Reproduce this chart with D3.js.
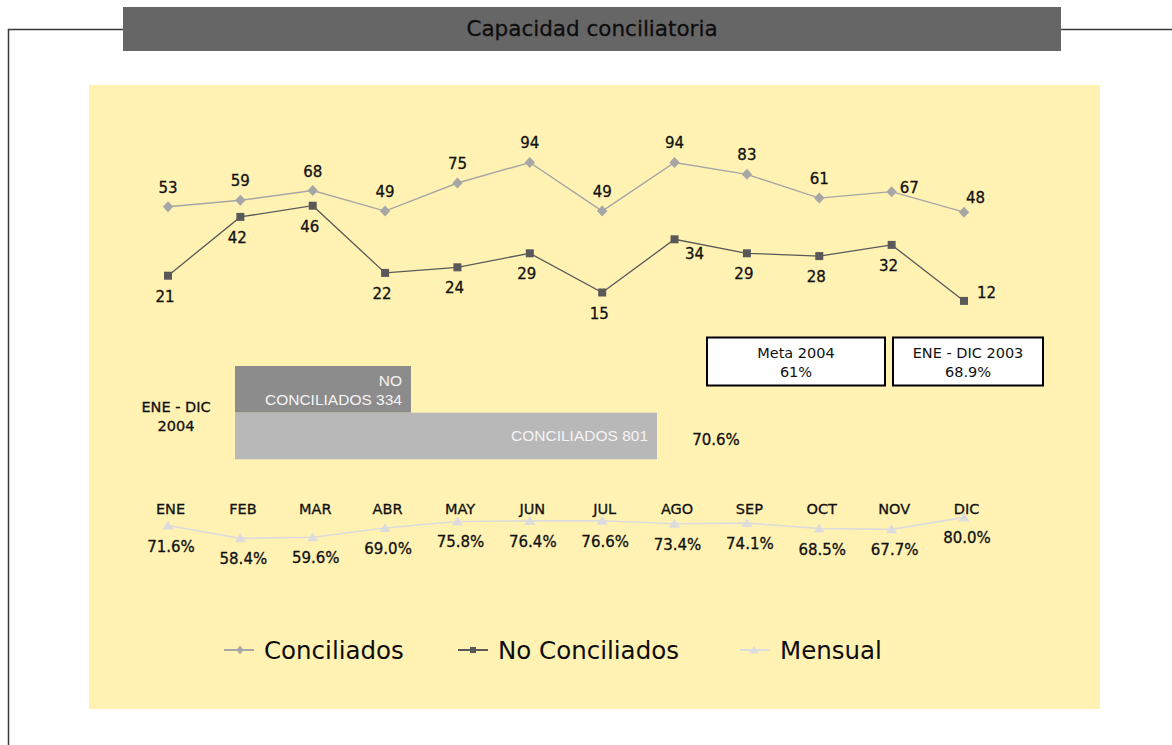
<!DOCTYPE html>
<html>
<head>
<meta charset="utf-8">
<title>Capacidad conciliatoria</title>
<script src="https://cdn.jsdelivr.net/npm/d3@7/dist/d3.min.js"></script>
<style>
  html, body { margin: 0; padding: 0; background: #ffffff; }
  svg { display: block; }
  text { font-family: "DejaVu Sans", Verdana, sans-serif; }
  text.dark { stroke: #111; stroke-width: 0.3px; }
</style>
</head>
<body>
<svg id="chart" width="1172" height="745"></svg>
<script>
// Monthly figures, 2004
const months = ["ENE", "FEB", "MAR", "ABR", "MAY", "JUN", "JUL", "AGO", "SEP", "OCT", "NOV", "DIC"];
const conciliados = [53, 59, 68, 49, 75, 94, 49, 94, 83, 61, 67, 48];
const noConciliados = [21, 42, 46, 22, 24, 29, 15, 34, 29, 28, 32, 12];
const mensual = [71.6, 58.4, 59.6, 69.0, 75.8, 76.4, 76.6, 73.4, 74.1, 68.5, 67.7, 80.0];

// Where each value label sits relative to its marker
const conciliadosLabelPlace = ["above", "above", "above", "above", "above", "above", "above", "above", "above", "above", "right", "aboveRight"];
const noConciliadosLabelPlace = ["below", "below", "below", "below", "below", "below", "below", "belowRight", "below", "below", "below", "right"];

// Year totals
const totalCategories = ["NO CONCILIADOS", "CONCILIADOS"];
const totalValues = [334, 801];
const totalPercent = 70.6;
const periodLabel = ["ENE - DIC", "2004"];

// Reference boxes
const refTitles = ["Meta 2004", "ENE - DIC 2003"];
const refValues = ["61%", "68.9%"];

// Legend
const seriesNames = ["Conciliados", "No Conciliados", "Mensual"];

const svg = d3.select("#chart");

// ---- frame and title ----
svg.append("path")
  .attr("d", "M8.5,745 V29.5 H123 M1061,29.5 H1172")
  .attr("fill", "none").attr("stroke", "#3a3a3a").attr("stroke-width", 1.5);

svg.append("rect").attr("x", 123).attr("y", 7).attr("width", 938).attr("height", 44).attr("fill", "#666666");
svg.append("text").attr("class", "dark").attr("x", 592).attr("y", 36).attr("text-anchor", "middle")
  .attr("font-size", 21.5).attr("fill", "#0d0d0d").text("Capacidad conciliatoria");

// ---- panel ----
svg.append("rect").attr("x", 89).attr("y", 85).attr("width", 1011).attr("height", 624).attr("fill", "#fff2b3");

// ---- scales ----
const x = d3.scalePoint().domain(months).range([168, 964]);
const yConc = d3.scaleLinear().domain([0, 100]).range([264, 156]);
const yNo = d3.scaleLinear().domain([0, 50]).range([334.5, 194.5]);
const yMen = d3.scaleLinear().domain([0, 100]).range([595, 498]);

const fmtPct = v => v.toFixed(1) + "%";

// ---- Conciliados ----
const gConc = svg.append("g");
gConc.append("path")
  .datum(conciliados)
  .attr("fill", "none").attr("stroke", "#a6a6a6").attr("stroke-width", 1.4)
  .attr("d", d3.line().x((d, i) => x(months[i])).y(d => yConc(d)));
gConc.selectAll("path.m").data(conciliados).join("path").attr("class", "m")
  .attr("transform", (d, i) => `translate(${x(months[i])},${yConc(d)})`)
  .attr("d", "M0,-5.5 L5.2,0 L0,5.5 L-5.2,0 Z")
  .attr("fill", "#a6a6a6");
gConc.selectAll("text").data(conciliados).join("text").attr("class", "dark")
  .attr("font-size", 15).attr("fill", "#111")
  .each(function (d, i) {
    const px = x(months[i]), py = yConc(d), place = conciliadosLabelPlace[i];
    const t = d3.select(this).text(d);
    if (place === "right") t.attr("x", px + 8).attr("y", py + 1).attr("text-anchor", "start");
    else if (place === "aboveRight") t.attr("x", px + 2).attr("y", py - 9).attr("text-anchor", "start");
    else t.attr("x", px).attr("y", py - 14).attr("text-anchor", "middle");
  });

// ---- No Conciliados ----
const gNo = svg.append("g");
gNo.append("path")
  .datum(noConciliados)
  .attr("fill", "none").attr("stroke", "#595959").attr("stroke-width", 1.3)
  .attr("d", d3.line().x((d, i) => x(months[i])).y(d => yNo(d)));
gNo.selectAll("rect").data(noConciliados).join("rect")
  .attr("x", (d, i) => x(months[i]) - 4).attr("y", d => yNo(d) - 4)
  .attr("width", 8).attr("height", 8).attr("fill", "#595959");
gNo.selectAll("text").data(noConciliados).join("text").attr("class", "dark")
  .attr("font-size", 15).attr("fill", "#111")
  .each(function (d, i) {
    const px = x(months[i]), py = yNo(d), place = noConciliadosLabelPlace[i];
    const t = d3.select(this).text(d);
    if (place === "right") t.attr("x", px + 13).attr("y", py - 3).attr("text-anchor", "start");
    else if (place === "belowRight") t.attr("x", px + 20).attr("y", py + 20).attr("text-anchor", "middle");
    else t.attr("x", px - 3).attr("y", py + 26).attr("text-anchor", "middle");
  });

// ---- Year totals (horizontal bars) ----
const xBar = d3.scaleLinear().domain([0, 801]).range([235, 657]);
const yBar = d3.scaleBand().domain(totalCategories).range([366, 459.3]).padding(0);
const barFill = { "NO CONCILIADOS": "#8c8c8c", "CONCILIADOS": "#b8b8b8" };
const gBar = svg.append("g");
gBar.selectAll("rect").data(totalCategories).join("rect")
  .attr("x", xBar(0)).attr("y", c => yBar(c))
  .attr("width", (c, i) => xBar(totalValues[i]) - xBar(0))
  .attr("height", yBar.bandwidth())
  .attr("fill", c => barFill[c]);
// Label inside each bar; the shorter one wraps onto two lines
totalCategories.forEach((c, i) => {
  const right = xBar(totalValues[i]) - 9;
  const t = gBar.append("text")
    .attr("text-anchor", "end").attr("fill", "#f4f4f4")
    .style("font-family", "'Liberation Sans', Arial, sans-serif").attr("font-size", 15.5);
  const words = c.split(" ");
  if (words.length > 1 && i === 0) {
    t.append("tspan").attr("x", right).attr("y", yBar(c) + 20).text(words[0]);
    t.append("tspan").attr("x", right).attr("y", yBar(c) + 39).text(words.slice(1).join(" ") + " " + totalValues[i]);
  } else {
    t.attr("x", right).attr("y", yBar(c) + yBar.bandwidth() / 2 + 5.5).text(c + " " + totalValues[i]);
  }
});
gBar.append("text").attr("class", "dark").attr("x", 716).attr("y", 445).attr("text-anchor", "middle")
  .attr("font-size", 15).attr("fill", "#111").text(fmtPct(totalPercent));
periodLabel.forEach((s, i) => {
  gBar.append("text").attr("class", "dark").attr("x", 176).attr("y", 412.3 + i * 18.7).attr("text-anchor", "middle")
    .attr("font-size", 14.5).attr("fill", "#111").text(s);
});

// ---- reference boxes ----
const boxX = [707, 893], boxW = [178, 150];
refTitles.forEach((s, i) => {
  const g = svg.append("g");
  g.append("rect").attr("x", boxX[i]).attr("y", 337.5).attr("width", boxW[i]).attr("height", 48)
    .attr("fill", "#ffffff").attr("stroke", "#000").attr("stroke-width", 2);
  g.append("text").attr("x", boxX[i] + boxW[i] / 2).attr("y", 358).attr("text-anchor", "middle")
    .attr("font-size", 14.5).attr("fill", "#111").text(s);
  g.append("text").attr("x", boxX[i] + boxW[i] / 2).attr("y", 377).attr("text-anchor", "middle")
    .attr("font-size", 14.5).attr("fill", "#111").text(refValues[i]);
});

// ---- Mensual ----
const gMen = svg.append("g");
gMen.append("path")
  .datum(mensual)
  .attr("fill", "none").attr("stroke", "#dcdcdc").attr("stroke-width", 1.6)
  .attr("d", d3.line().x((d, i) => x(months[i])).y(d => yMen(d)));
gMen.selectAll("path.m").data(mensual).join("path").attr("class", "m")
  .attr("transform", (d, i) => `translate(${x(months[i])},${yMen(d)})`)
  .attr("d", "M0,-5 L5.5,4 L-5.5,4 Z")
  .attr("fill", "#dcdcdc");
gMen.selectAll("text").data(mensual).join("text").attr("class", "dark")
  .attr("x", (d, i) => x(months[i]) + 3).attr("y", d => yMen(d) + 26)
  .attr("text-anchor", "middle").attr("font-size", 15).attr("fill", "#111")
  .text(fmtPct);

// Month names along the top of the monthly line
const monthAxis = svg.append("g").attr("transform", "translate(2,504)")
  .call(d3.axisBottom(x).tickSize(0).tickPadding(0));
monthAxis.select(".domain").remove();
monthAxis.selectAll("text")
  .attr("class", "dark")
  .attr("font-size", 14.5).attr("fill", "#111")
  .style("font-family", "'DejaVu Sans', Verdana, sans-serif");

// ---- legend ----
const legendX = [224, 458, 740];
const legend = svg.append("g").attr("transform", "translate(0,650)");
seriesNames.forEach((name, i) => {
  const g = legend.append("g").attr("transform", `translate(${legendX[i]},0)`);
  const stroke = ["#a6a6a6", "#595959", "#dcdcdc"][i];
  g.append("line").attr("x1", 0).attr("x2", 30).attr("y1", 0).attr("y2", 0)
    .attr("stroke", stroke).attr("stroke-width", 2);
  if (i === 0) g.append("path").attr("transform", "translate(16,0)").attr("d", "M0,-4.5 L3.5,0 L0,4.5 L-3.5,0 Z").attr("fill", stroke);
  if (i === 1) g.append("rect").attr("x", 12).attr("y", -3).attr("width", 6).attr("height", 6).attr("fill", stroke);
  if (i === 2) g.append("path").attr("transform", "translate(14,0)").attr("d", "M0,-4 L5,3.5 L-5,3.5 Z").attr("fill", stroke);
  g.append("text").attr("x", 40).attr("y", 8.5).attr("font-size", 24.5).attr("fill", "#0d0d0d").text(name);
});
</script>
</body>
</html>
